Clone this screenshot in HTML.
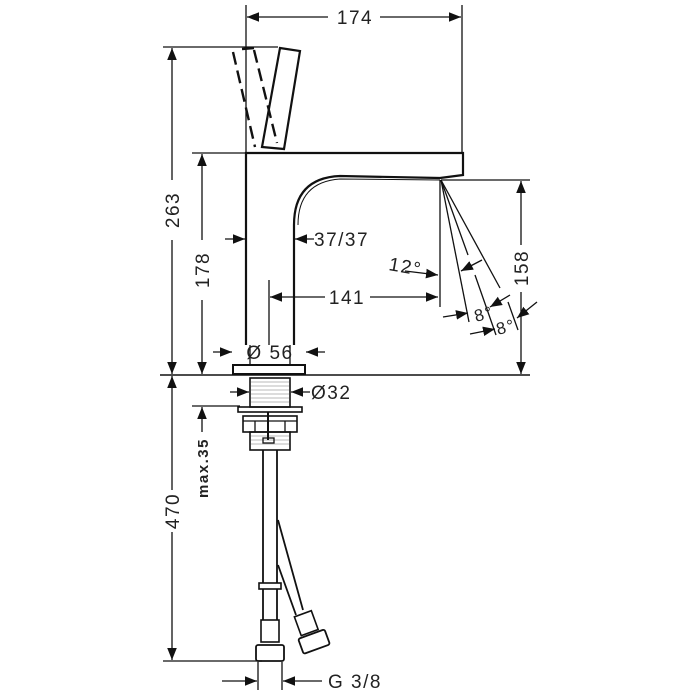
<!DOCTYPE html>
<html><head><meta charset="utf-8"><style>
html,body{margin:0;padding:0;background:#fff}
svg{display:block}
text{font-family:"Liberation Sans",sans-serif;fill:#222;letter-spacing:1.5px}
</style></head><body>
<svg width="700" height="700" viewBox="0 0 700 700" xmlns="http://www.w3.org/2000/svg">
<defs>
<marker id="a" viewBox="0 0 10 10" refX="10" refY="5" markerWidth="12" markerHeight="12" markerUnits="userSpaceOnUse" orient="auto"><path d="M0,1 L10,5 L0,9 z" fill="#111"/></marker>
</defs>
<g stroke="#111" stroke-width="1.3" fill="none">
<!-- 174 -->
<line x1="246" y1="5" x2="246" y2="152"/><line x1="462" y1="5" x2="462" y2="152"/>
<line x1="328" y1="17" x2="247" y2="17" marker-end="url(#a)"/>
<line x1="380" y1="17" x2="461" y2="17" marker-end="url(#a)"/>
<!-- lever -->
<path d="M280,48 L300,51 L284,149 L262,147 Z" stroke-width="2.2"/>
<g stroke-dasharray="13,6" stroke-width="2.4">
<line x1="233" y1="52" x2="255" y2="147"/><line x1="254" y1="50" x2="277" y2="143"/>
</g>
<line x1="242" y1="49" x2="254" y2="48" stroke-width="2.4"/>
<!-- body -->
<path d="M246,345 L246,153 L463,153 L463,175 L440,178 L340,176 Q294,178 294,225 L294,345" stroke-width="2.2"/>
<path d="M298,225 Q298,182 340,179 L440,180" stroke-width="1"/>
<rect x="233" y="365" width="72" height="9" stroke-width="2"/>
<line x1="250" y1="345" x2="250" y2="365"/><line x1="290" y1="345" x2="290" y2="365"/>
<line x1="160" y1="375" x2="530" y2="375" stroke-width="1.6"/>
<!-- 263 -->
<line x1="163" y1="47" x2="278" y2="47"/>
<line x1="172" y1="180" x2="172" y2="48" marker-end="url(#a)"/>
<line x1="172" y1="240" x2="172" y2="374" marker-end="url(#a)"/>
<!-- 178 -->
<line x1="192" y1="153" x2="246" y2="153"/>
<line x1="202" y1="240" x2="202" y2="154" marker-end="url(#a)"/>
<line x1="202" y1="300" x2="202" y2="374" marker-end="url(#a)"/>
<!-- 37/37 -->
<line x1="225" y1="239" x2="245" y2="239" marker-end="url(#a)"/>
<line x1="314" y1="239" x2="295" y2="239" marker-end="url(#a)"/>
<!-- 141 -->
<line x1="269" y1="280" x2="269" y2="345"/>
<line x1="440" y1="180" x2="440" y2="307"/>
<line x1="325" y1="297" x2="270" y2="297" marker-end="url(#a)"/>
<line x1="370" y1="297" x2="438" y2="297" marker-end="url(#a)"/>
<line x1="405" y1="271" x2="438" y2="275" marker-end="url(#a)"/>
<!-- spray -->
<line x1="441" y1="180" x2="469" y2="322"/>
<line x1="441" y1="180" x2="468" y2="255"/>
<line x1="475" y1="275" x2="496" y2="335"/>
<line x1="441" y1="180" x2="500" y2="288"/>
<line x1="482" y1="260" x2="461" y2="271" marker-end="url(#a)"/>
<line x1="510" y1="295" x2="490" y2="307" marker-end="url(#a)"/>
<line x1="508" y1="302" x2="518" y2="330"/>
<line x1="537" y1="302" x2="517" y2="318" marker-end="url(#a)"/>
<line x1="443" y1="317" x2="468" y2="313" marker-end="url(#a)"/>
<line x1="470" y1="334" x2="495" y2="329" marker-end="url(#a)"/>
<!-- 158 -->
<line x1="441" y1="180" x2="530" y2="180"/>
<line x1="521" y1="245" x2="521" y2="181" marker-end="url(#a)"/>
<line x1="521" y1="292" x2="521" y2="374" marker-end="url(#a)"/>
<!-- Ø56 -->
<line x1="213" y1="352" x2="232" y2="352" marker-end="url(#a)"/>
<line x1="325" y1="352" x2="306" y2="352" marker-end="url(#a)"/>
<!-- lower -->
<rect x="250" y="378" width="40" height="29" stroke-width="1.6"/>
<g stroke-width="0.6" stroke="#777">
<line x1="251" y1="382" x2="289" y2="382"/><line x1="251" y1="386" x2="289" y2="386"/><line x1="251" y1="390" x2="289" y2="390"/><line x1="251" y1="394" x2="289" y2="394"/><line x1="251" y1="398" x2="289" y2="398"/><line x1="251" y1="402" x2="289" y2="402"/>
<line x1="251" y1="436" x2="289" y2="436"/><line x1="251" y1="440" x2="289" y2="440"/><line x1="251" y1="444" x2="289" y2="444"/>
</g>
<line x1="230" y1="392" x2="249" y2="392" marker-end="url(#a)"/>
<line x1="310" y1="392" x2="291" y2="392" marker-end="url(#a)"/>
<rect x="238" y="407" width="64" height="5" stroke-width="1.6"/>
<rect x="243" y="416" width="54" height="16" stroke-width="1.6"/>
<line x1="243" y1="421" x2="297" y2="421"/>
<line x1="255" y1="421" x2="255" y2="432"/><line x1="285" y1="421" x2="285" y2="432"/>
<rect x="250" y="432" width="40" height="18" stroke-width="1.6"/>
<line x1="268" y1="412" x2="268" y2="440" stroke-width="2"/>
<rect x="263" y="438" width="11" height="5"/>
<line x1="263" y1="450" x2="263" y2="583" stroke-width="1.8"/>
<line x1="277" y1="450" x2="277" y2="583" stroke-width="1.8"/>
<rect x="259" y="583" width="22" height="6" stroke-width="1.6"/>
<line x1="263" y1="589" x2="263" y2="620" stroke-width="1.8"/>
<line x1="277" y1="589" x2="277" y2="620" stroke-width="1.8"/>
<rect x="261" y="620" width="18" height="22" stroke-width="1.6"/>
<rect x="256" y="645" width="28" height="16" rx="2" stroke-width="1.8"/>
<line x1="278" y1="520" x2="303" y2="610" stroke-width="1.8"/>
<line x1="278" y1="565" x2="296" y2="615" stroke-width="1.8"/>
<g transform="rotate(-20 312 636)">
<rect x="302" y="612" width="18" height="20" stroke-width="1.6"/>
<rect x="298" y="634" width="28" height="16" rx="2" stroke-width="1.8"/>
</g>
<!-- 470 -->
<line x1="172" y1="490" x2="172" y2="376" marker-end="url(#a)"/>
<line x1="172" y1="532" x2="172" y2="660" marker-end="url(#a)"/>
<line x1="163" y1="661" x2="262" y2="661"/>
<!-- max.35 -->
<line x1="192" y1="406" x2="240" y2="406"/>
<line x1="202" y1="432" x2="202" y2="407" marker-end="url(#a)"/>
<!-- G3/8 -->
<line x1="258" y1="662" x2="258" y2="690"/><line x1="282" y1="662" x2="282" y2="690"/>
<line x1="222" y1="681" x2="257" y2="681" marker-end="url(#a)"/>
<line x1="322" y1="681" x2="283" y2="681" marker-end="url(#a)"/>
</g>
<g font-size="19">
<text x="355" y="24" text-anchor="middle">174</text>
<text transform="translate(179,210) rotate(-90)" text-anchor="middle">263</text>
<text transform="translate(209,270) rotate(-90)" text-anchor="middle">178</text>
<text x="314" y="246">37/37</text>
<text x="347" y="304" text-anchor="middle">141</text>
<text x="388" y="270" transform="rotate(10 388 270)">12°</text>
<text x="476" y="322" font-size="17" transform="rotate(-15 476 322)">8°</text>
<text x="498" y="335" font-size="17" transform="rotate(-15 498 335)">8°</text>
<text transform="translate(528,268) rotate(-90)" text-anchor="middle">158</text>
<text x="270" y="359" text-anchor="middle">Ø 56</text>
<text x="311" y="399">Ø32</text>
<text transform="translate(179,511) rotate(-90)" text-anchor="middle">470</text>
<text transform="translate(208,468) rotate(-90)" text-anchor="middle" font-size="15" font-weight="bold">max.35</text>
<text x="328" y="688">G 3/8</text>
</g>
</svg>
</body></html>
